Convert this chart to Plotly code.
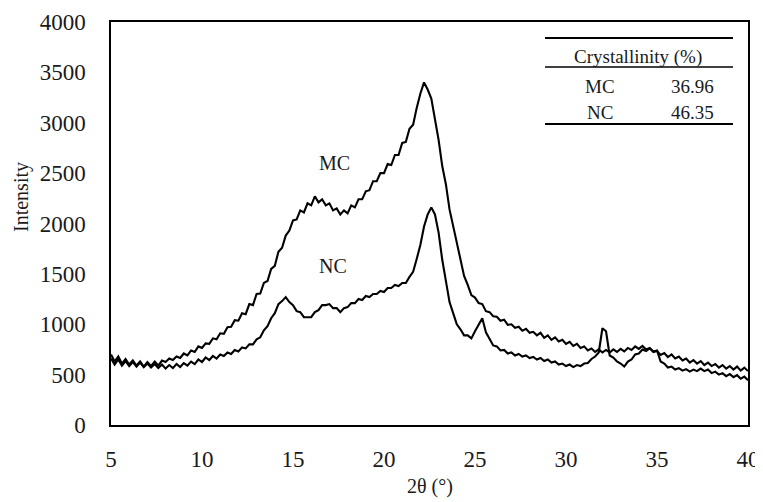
import numpy as np
import plotly.graph_objects as go

two_theta = np.round(np.arange(5.0, 40.0001, 0.2), 1)

mc_intensity = [
    700, 630, 680, 610, 655, 600, 640, 590, 630, 580,
    625, 585, 630, 590, 640, 625, 660, 645, 680, 665,
    710, 690, 740, 725, 780, 765, 810, 805, 860, 850,
    910, 905, 970, 975, 1040, 1035, 1110, 1100, 1200, 1190,
    1300, 1305, 1410, 1430, 1550, 1580, 1720, 1760, 1880, 1930,
    2030, 2040, 2130, 2110, 2200, 2180, 2270, 2210, 2240, 2180,
    2200, 2130, 2150, 2090, 2130, 2100, 2180, 2160, 2240, 2240,
    2320, 2330, 2420, 2420, 2500, 2500, 2590, 2580, 2680, 2680,
    2800, 2810, 2940, 2980, 3150, 3290, 3400, 3330, 3240, 3040,
    2830, 2570, 2390, 2140, 1970, 1790, 1640, 1480, 1390, 1290,
    1265, 1210, 1200, 1130, 1120, 1080, 1075, 1035, 1045, 995,
    1000, 965, 975, 935, 955, 915, 925, 890, 915, 865,
    890, 845, 870, 830, 845, 805, 825, 785, 805, 765,
    780, 740, 760, 725, 750, 720, 745, 720, 750, 725,
    755, 730, 765, 745, 780, 755, 785, 750, 765, 725,
    735, 695, 715, 675, 700, 660, 680, 640, 660, 620,
    645, 610, 635, 595, 620, 585, 605, 570, 595, 560,
    585, 550, 580, 540, 570, 535,
]

nc_intensity = [
    660, 600, 650, 590, 635, 585, 625, 580, 620, 575,
    610, 570, 605, 565, 600, 560, 595, 565, 605, 575,
    615, 590, 630, 605, 650, 625, 670, 645, 685, 660,
    700, 685, 720, 705, 745, 730, 770, 760, 800, 800,
    850, 870, 940, 980, 1060, 1110, 1200, 1230, 1270, 1220,
    1190, 1130, 1120, 1070, 1070, 1070, 1120, 1140, 1190, 1190,
    1200, 1160, 1160, 1120, 1160, 1170, 1210, 1210, 1250, 1240,
    1280, 1270, 1300, 1300, 1330, 1320, 1360, 1360, 1390, 1380,
    1410, 1410, 1470, 1520, 1650, 1790, 1970, 2090, 2160, 2090,
    1910, 1640, 1430, 1220, 1110, 1000, 950, 890, 890, 860,
    930, 990, 1060, 920, 860, 790, 780, 740, 745, 710,
    720, 690, 705, 680, 690, 665, 675, 650, 665, 635,
    650, 620, 630, 600, 610, 585, 600, 575, 595, 585,
    610, 615, 655, 680, 720, 960, 930, 690, 670, 630,
    610, 580, 630, 650, 700, 710, 750, 735, 760, 730,
    740, 630, 610, 570, 580, 550, 565, 540, 555, 530,
    550, 535, 560, 535, 550, 515, 530, 500, 515, 485,
    505, 475, 495, 460, 480, 445,
]

series_names = ["MC", "NC"]
crystallinity = ["36.96", "46.35"]
table_header = "Crystallinity (%)"
x_ticks = [5, 10, 15, 20, 25, 30, 35, 40]
y_ticks = [0, 500, 1000, 1500, 2000, 2500, 3000, 3500, 4000]

assert len(mc_intensity) == len(two_theta) == len(nc_intensity)

FONT = "Liberation Serif"
TXT = "#1a1a1a"
OFF = 8  # page body margin
W, H = 763 - OFF, 502 - OFF
# plot area in page pixels
L, R, T, B = 111, 748, 22, 425


def px(x):
    return (x - L) / (R - L)


def py(y):
    return (B - y) / (B - T)


fig = go.Figure()
fig.add_trace(go.Scatter(x=two_theta, y=mc_intensity, mode="lines", name="MC",
                         line=dict(color="black", width=2.1)))
fig.add_trace(go.Scatter(x=two_theta, y=nc_intensity, mode="lines", name="NC",
                         line=dict(color="black", width=2.1)))

fig.update_layout(
    width=W, height=H,
    margin=dict(l=L - OFF, r=W - (R - OFF), t=T - OFF, b=H - (B - OFF), autoexpand=False),
    paper_bgcolor="white", plot_bgcolor="white",
    showlegend=False,
    font=dict(family=FONT, size=20, color=TXT),
)
fig.update_xaxes(range=[5, 40], tickvals=x_ticks, showgrid=False, zeroline=False,
                 showline=True, mirror=True, linecolor="black", linewidth=1.5,
                 automargin=False,
                 ticks="", ticklabelstandoff=13, tickfont=dict(family=FONT, size=23, color=TXT))
fig.update_yaxes(range=[0, 4000], tickvals=y_ticks, showgrid=False, zeroline=False,
                 showline=True, mirror=True, linecolor="black", linewidth=1.5,
                 automargin=False,
                 ticks="", ticklabelstandoff=19, tickfont=dict(family=FONT, size=23, color=TXT))


def note(text, x, y, size=20, xanchor="center", **kw):
    return dict(text=text, x=px(x), y=py(y), xref="paper", yref="paper",
                showarrow=False, xanchor=xanchor, yanchor="middle",
                font=dict(size=size), **kw)


ann = []
# axis titles
ann.append(note("2θ (°)", 430, 487))
ann.append(note("Intensity", 21, 197, textangle=-90))
# curve labels
ann.append(dict(text=series_names[0], x=17.3, y=2600, xref="x", yref="y", showarrow=False,
                xanchor="center", yanchor="middle"))
ann.append(dict(text=series_names[1], x=17.2, y=1580, xref="x", yref="y", showarrow=False,
                xanchor="center", yanchor="middle"))
# table
ann.append(note(table_header, 638, 57, size=19))
for i, (name, val) in enumerate(zip(series_names, crystallinity)):
    yy = [87, 112][i]
    ann.append(note(name, 600, yy, size=19))
    ann.append(note(val, 716, yy, size=19, xanchor="right"))
fig.update_layout(annotations=ann)

shapes = []
for yy, w in [(38, 2), (67, 1.5), (124, 2)]:
    shapes.append(dict(type="line", xref="paper", yref="paper", x0=px(545), x1=px(733),
                       y0=py(yy), y1=py(yy), line=dict(color="black", width=w)))
fig.update_layout(shapes=shapes)

fig.write_html("out.html")
